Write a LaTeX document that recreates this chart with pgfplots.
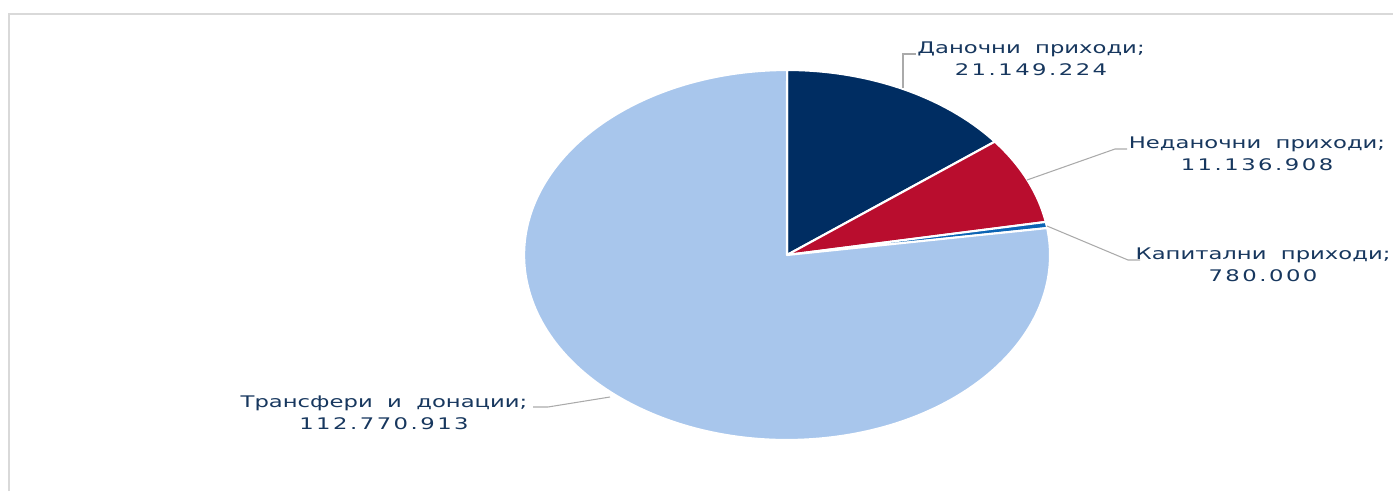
\documentclass[border=0pt]{standalone}
\usepackage{pgfplots}
\usepackage{pgfplotstable}
\pgfplotsset{compat=1.18}
\usepackage{fontspec}
\setmainfont{DejaVu Sans}
\newfontfamily\numfont[LetterSpace=11]{DejaVu Sans}

\definecolor{navy}{RGB}{0,45,98}
\definecolor{crim}{RGB}{185,13,46}
\definecolor{midblue}{RGB}{12,100,180}
\definecolor{lightblue}{RGB}{168,198,236}
\definecolor{txt}{RGB}{23,55,94}
\definecolor{frame}{RGB}{217,217,217}
\definecolor{lead}{RGB}{170,170,170}

% revenue in millions
\pgfplotstableread{
name value
danocni 21.149224
nedanocni 11.136908
kapitalni 0.780000
transferi 112.770913
}\revenue

\pgfplotstablegetelem{0}{value}\of\revenue \let\va\pgfplotsretval
\pgfplotstablegetelem{1}{value}\of\revenue \let\vb\pgfplotsretval
\pgfplotstablegetelem{2}{value}\of\revenue \let\vc\pgfplotsretval
\pgfplotstablegetelem{3}{value}\of\revenue \let\vd\pgfplotsretval
\pgfmathsetmacro\total{\va+\vb+\vc+\vd}
\pgfmathsetmacro\aA{90}
\pgfmathsetmacro\aB{\aA-360*(\va/\total)}
\pgfmathsetmacro\aC{\aB-360*(\vb/\total)}
\pgfmathsetmacro\aD{\aC-360*(\vc/\total)}
\pgfmathsetmacro\aE{\aD-360*(\vd/\total)}

% centre and radii in pixel units (1px = 0.02cm)
\def\cx{787}\def\cy{-255}\def\rx{263}\def\ry{185}
\newcommand{\slice}[3]{%
  \fill[#3, draw=white, line width=1.2pt, line join=round]
    (axis cs:\cx,\cy) -- (axis cs:{\cx+\rx*cos(#1)},{\cy+\ry*sin(#1)})
    arc[start angle=#1, end angle=#2, x radius=5.26cm, y radius=3.70cm] -- cycle;}

\begin{document}
\begin{tikzpicture}
\begin{axis}[x=0.02cm, y=0.02cm, xmin=0, xmax=1395, ymin=-491, ymax=0,
  hide axis, clip=false]
  \path (axis cs:0,0) rectangle (axis cs:1395,-491);
  \draw[frame, line width=1.2pt] (axis cs:9,-491) -- (axis cs:9,-14) -- (axis cs:1393,-14);
  \slice{\aA}{\aB}{navy}
  \slice{\aB}{\aC}{crim}
  \slice{\aC}{\aD}{midblue}
  \slice{\aD}{\aE}{lightblue}
  \draw[lead, line width=0.6pt] (axis cs:903,-88) -- (axis cs:903,-54) -- (axis cs:916,-54);
  \draw[lead, line width=0.6pt] (axis cs:1027,-180) -- (axis cs:1115,-149) -- (axis cs:1127,-149);
  \draw[lead, line width=0.6pt] (axis cs:1047,-226) -- (axis cs:1128,-260) -- (axis cs:1140,-260);
  \draw[lead, line width=0.6pt] (axis cs:610,-397) -- (axis cs:548,-407) -- (axis cs:533,-407);
  \tikzset{lbl/.style={text=txt, align=center, xscale=1.42, inner sep=0pt,
    font=\fontsize{9.1}{12.5}\selectfont}}
  \node[lbl] at (axis cs:1031,-59) {Даночни\ \ приходи;\\{\numfont 21.149.224}};
  \node[lbl] at (axis cs:1257,-154) {Неданочни\ \ приходи;\\{\numfont 11.136.908}};
  \node[lbl] at (axis cs:1263,-265) {Капитални\ \ приходи;\\{\numfont 780.000}};
  \node[lbl] at (axis cs:384,-413) {Трансфери\ \ и\ \ донации;\\{\numfont 112.770.913}};
\end{axis}
\end{tikzpicture}
\end{document}
